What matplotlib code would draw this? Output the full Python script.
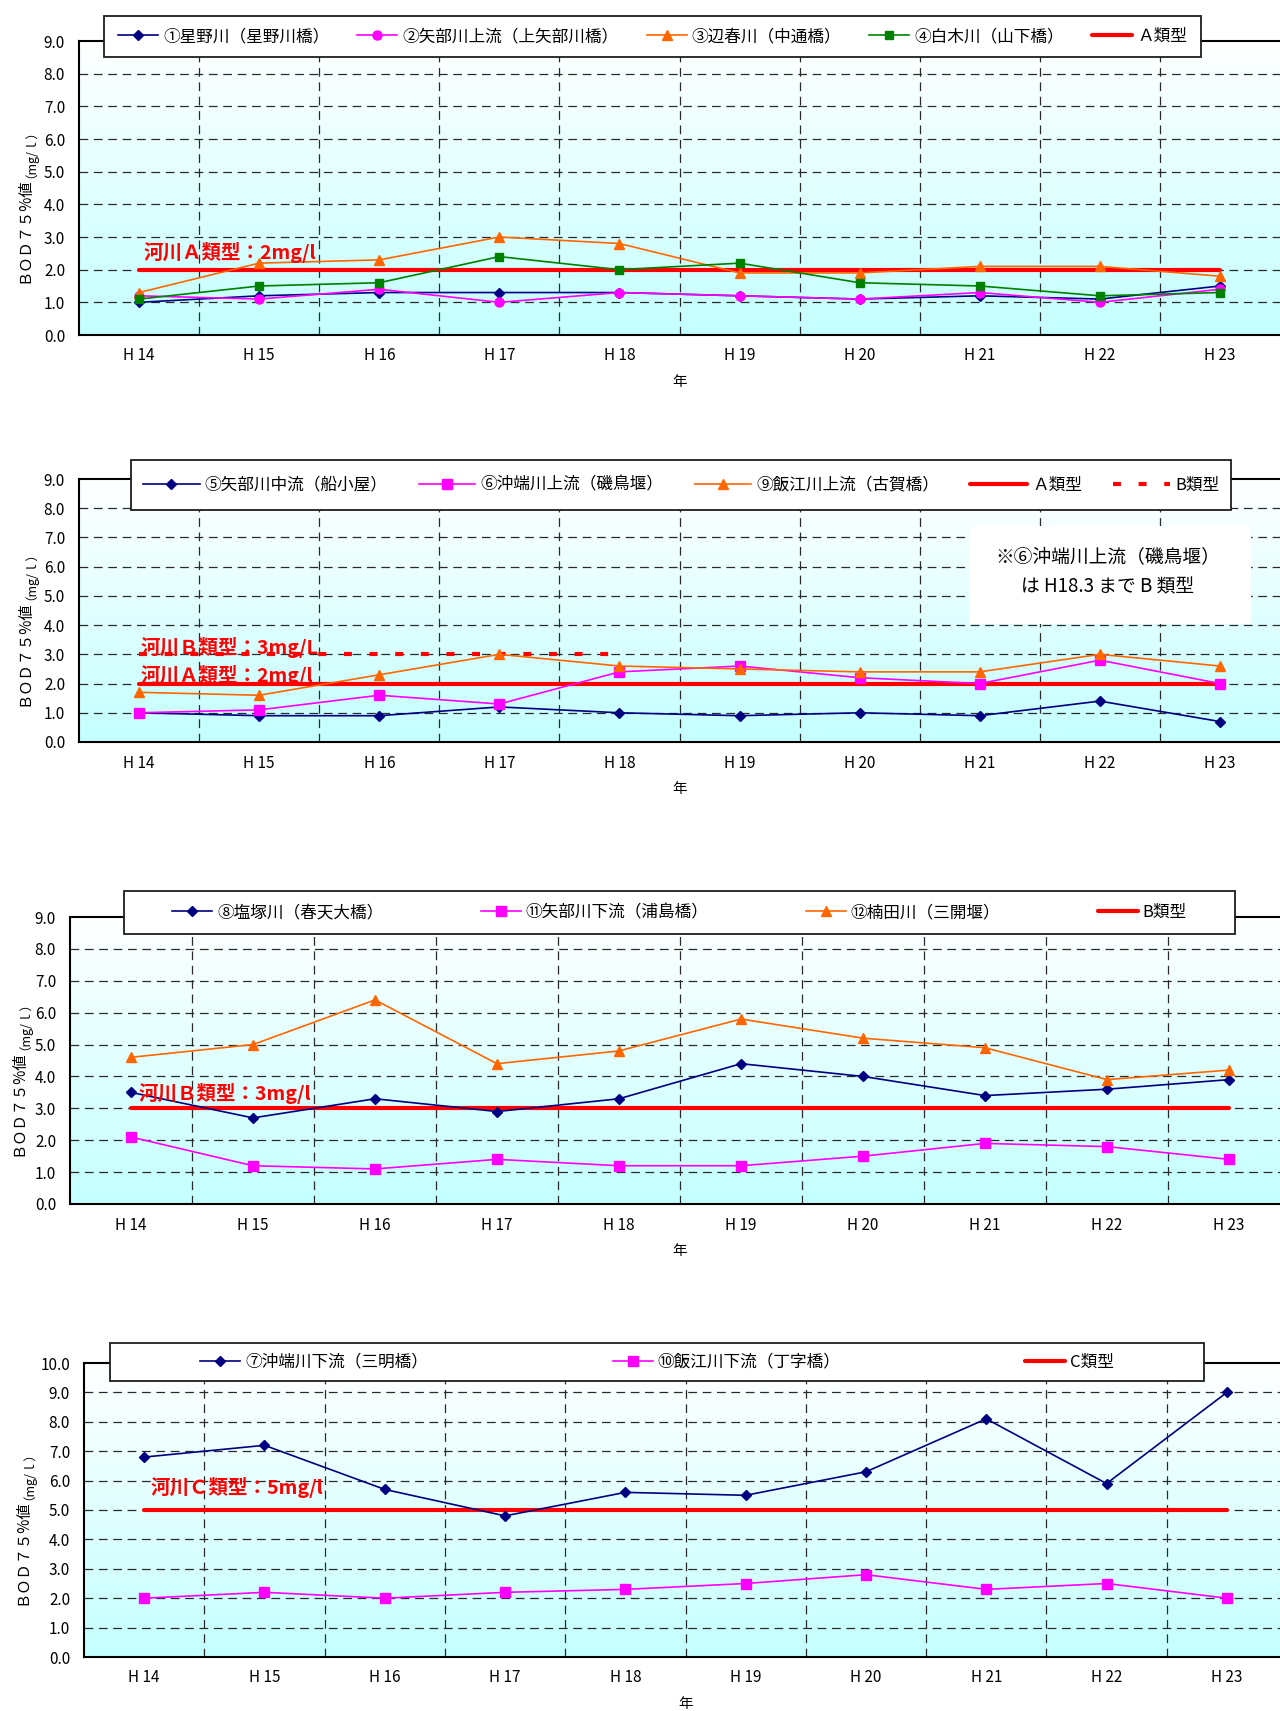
import numpy as np
import matplotlib
matplotlib.use('Agg')
import matplotlib.pyplot as plt
from matplotlib.patches import Rectangle
from matplotlib.colors import LinearSegmentedColormap

plt.rcParams['font.family'] = ['Noto Sans CJK JP', 'DejaVu Sans']

# ---- data -------------------------------------------------------------
years = ['H 14', 'H 15', 'H 16', 'H 17', 'H 18', 'H 19', 'H 20', 'H 21', 'H 22', 'H 23']

# panel 1
hoshino = [1.0, 1.2, 1.3, 1.3, 1.3, 1.2, 1.1, 1.2, 1.1, 1.5]
yabe_upper = [1.2, 1.1, 1.4, 1.0, 1.3, 1.2, 1.1, 1.3, 1.0, 1.4]
hebaru = [1.3, 2.2, 2.3, 3.0, 2.8, 1.9, 1.9, 2.1, 2.1, 1.8]
shiraki = [1.1, 1.5, 1.6, 2.4, 2.0, 2.2, 1.6, 1.5, 1.2, 1.3]

# panel 2
yabe_middle = [1.0, 0.9, 0.9, 1.2, 1.0, 0.9, 1.0, 0.9, 1.4, 0.7]
okinohata_upper = [1.0, 1.1, 1.6, 1.3, 2.4, 2.6, 2.2, 2.0, 2.8, 2.0]
hie_upper = [1.7, 1.6, 2.3, 3.0, 2.6, 2.5, 2.4, 2.4, 3.0, 2.6]

# panel 3
shiozuka = [3.5, 2.7, 3.3, 2.9, 3.3, 4.4, 4.0, 3.4, 3.6, 3.9]
yabe_lower = [2.1, 1.2, 1.1, 1.4, 1.2, 1.2, 1.5, 1.9, 1.8, 1.4]
kusuda = [4.6, 5.0, 6.4, 4.4, 4.8, 5.8, 5.2, 4.9, 3.9, 4.2]

# panel 4
okinohata_lower = [6.8, 7.2, 5.7, 4.8, 5.6, 5.5, 6.3, 8.1, 5.9, 9.0]
hie_lower = [2.0, 2.2, 2.0, 2.2, 2.3, 2.5, 2.8, 2.3, 2.5, 2.0]

# environmental standards
std_a = [2.0, 2.0, 2.0, 2.0, 2.0, 2.0, 2.0, 2.0, 2.0, 2.0]
std_b = [3.0, 3.0, 3.0, 3.0, 3.0, 3.0, 3.0, 3.0, 3.0, 3.0]
std_b_until_h18 = [3.0, 3.0, 3.0, 3.0, 3.0, None, None, None, None, None]
std_c = [5.0, 5.0, 5.0, 5.0, 5.0, 5.0, 5.0, 5.0, 5.0, 5.0]

# ---- styling ----------------------------------------------------------
NAVY, MAGENTA, ORANGE, GREEN, RED = '#000080', '#ff00ff', '#ff6600', '#008000', '#ff0000'
W, H = 1280, 1711
DOTTED = (0, (1.9, 4.25))

fig = plt.figure(figsize=(W / 100, H / 100), dpi=100)
fig.patch.set_facecolor('white')
bg_cmap = LinearSegmentedColormap.from_list('bg', ['#c4ffff', '#ffffff'])


def px_rect(l, t, r, b):
    return [l / W, 1 - b / H, (r - l) / W, (b - t) / H]


panels = [
    dict(ax=(79, 41, 1280, 335), ymax=9,
         series=[('①星野川（星野川橋）', hoshino, NAVY, 'D', 4.8),
                 ('②矢部川上流（上矢部川橋）', yabe_upper, MAGENTA, 'o', 6.5),
                 ('③辺春川（中通橋）', hebaru, ORANGE, '^', 7.5),
                 ('④白木川（山下橋）', shiraki, GREEN, 's', 6.0)],
         standards=[('Ａ類型', std_a, '-')],
         legend_box=(104, 16, 1201, 57), inset=14, handlelength=2.4,
         notes=[('河川Ａ類型：2mg/l', 0.04, 2.33)],
         ylabel_x=24),
    dict(ax=(79, 479, 1280, 742), ymax=9,
         series=[('⑤矢部川中流（船小屋）', yabe_middle, NAVY, 'D', 4.8),
                 ('⑥沖端川上流（磯鳥堰）', okinohata_upper, MAGENTA, 's', 6.5),
                 ('⑨飯江川上流（古賀橋）', hie_upper, ORANGE, '^', 7.5)],
         standards=[('Ａ類型', std_a, '-'), ('B類型', std_b_until_h18, DOTTED)],
         legend_box=(131, 460, 1231, 510), inset=12, handlelength=3.4,
         notes=[('河川Ｂ類型：3mg/L', 0.01, 3.02), ('河川Ａ類型：2mg/l', 0.01, 2.05)],
         ylabel_x=24),
    dict(ax=(70, 917, 1290, 1204), ymax=9,
         series=[('⑧塩塚川（春天大橋）', shiozuka, NAVY, 'D', 4.8),
                 ('⑪矢部川下流（浦島橋）', yabe_lower, MAGENTA, 's', 7.0),
                 ('⑫楠田川（三開堰）', kusuda, ORANGE, '^', 7.5)],
         standards=[('B類型', std_b, '-')],
         legend_box=(124, 891, 1235, 934), inset=48, handlelength=2.4,
         notes=[('河川Ｂ類型：3mg/l', 0.06, 3.26)],
         ylabel_x=18),
    dict(ax=(84, 1363, 1287, 1657), ymax=10,
         series=[('⑦沖端川下流（三明橋）', okinohata_lower, NAVY, 'D', 4.8),
                 ('⑩飯江川下流（丁字橋）', hie_lower, MAGENTA, 's', 6.5)],
         standards=[('C類型', std_c, '-')],
         legend_box=(110, 1343, 1204, 1381), inset=90, handlelength=2.4,
         notes=[('河川Ｃ類型：5mg/l', 0.05, 5.54)],
         ylabel_x=22),
]

renderer = fig.canvas.get_renderer()


def draw_ylabel(x_px, yc_px):
    t1 = fig.text(x_px / W, 0.5, 'ＢＯＤ７５%値', rotation=90, ha='center', va='bottom',
                  fontsize=11)
    t2 = fig.text(x_px / W, 0.5, '（mg/ｌ）', rotation=90, ha='center', va='bottom',
                  fontsize=9)
    h1 = t1.get_window_extent(renderer).height
    h2 = t2.get_window_extent(renderer).height
    y0 = (H - yc_px) - (h1 + h2) / 2
    t1.set_position((x_px / W, y0 / H))
    t2.set_position((x_px / W, (y0 + h1) / H))


for p in panels:
    l, t, r, b = p['ax']
    ymax = p['ymax']
    ax = fig.add_axes(px_rect(l, t, r, b))
    ax.set_facecolor('none')
    n = len(years)
    x = np.arange(n)

    grad = np.linspace(1, 0, 256).reshape(-1, 1)
    ax.imshow(grad, cmap=bg_cmap, aspect='auto', origin='upper',
              extent=(-0.5, n - 0.5, 0, ymax), zorder=0, interpolation='bilinear')
    ax.set_xlim(-0.5, n - 0.5)
    ax.set_ylim(0, ymax)

    for yv in range(1, ymax):
        ax.axhline(yv, color='#2a2a2a', lw=0.9, ls=(0, (7, 4.5)), zorder=1)
    for k in range(n - 1):
        ax.axvline(k + 0.5, color='#2a2a2a', lw=0.9, ls=(0, (7, 4.5)), zorder=1)

    handles, labels = [], []
    for label, vals, color, marker, ms in p['series']:
        h, = ax.plot(x, vals, color=color, lw=1.2, marker=marker, ms=ms,
                     mfc=color, mec=color, zorder=4, clip_on=False)
        handles.append(h)
        labels.append(label)
    for label, vals, ls in p['standards']:
        vals = np.array(vals, dtype=float)
        h, = ax.plot(x, vals, color=RED, lw=3, ls=ls, zorder=3,
                     solid_capstyle='round', dash_capstyle='butt')
        handles.append(h)
        labels.append(label)

    for text, tx, ty in p['notes']:
        ax.text(tx, ty, text, color=RED, fontsize=14, fontweight='bold',
                ha='left', va='baseline', zorder=5)

    ax.set_xticks(x)
    ax.set_xticklabels(years, fontsize=11)
    ax.set_yticks(range(0, ymax + 1))
    ax.set_yticklabels([f'{v:.1f}' for v in range(0, ymax + 1)], fontsize=11)
    ax.tick_params(axis='both', length=0)
    ax.tick_params(axis='x', pad=9)
    ax.tick_params(axis='y', pad=10)
    for side in ('top', 'left', 'bottom'):
        ax.spines[side].set_color('black')
        ax.spines[side].set_linewidth(1.5)
        ax.spines[side].set_zorder(6)
    ax.spines['right'].set_visible(False)

    ax.text(0.5, -47 / (b - t), '年', transform=ax.transAxes, ha='center',
            va='center', fontsize=10.5)

    draw_ylabel(p['ylabel_x'], (t + b) / 2 + 12)

    bl, bt, br, bb = p['legend_box']
    fig.add_artist(Rectangle((bl / W, 1 - bb / H), (br - bl) / W, (bb - bt) / H,
                             transform=fig.transFigure, facecolor='white',
                             edgecolor='#1e1e1e', lw=1.3, zorder=4))
    ins = p['inset']
    fig.legend(handles, labels, loc='center',
               bbox_to_anchor=((bl + ins) / W, 1 - bb / H, (br - bl - 2 * ins) / W, (bb - bt) / H),
               mode='expand', ncol=len(handles), frameon=False, borderpad=0,
               borderaxespad=0, handlelength=p['handlelength'], handletextpad=0.3,
               columnspacing=0.5, fontsize=12, numpoints=1)

# note about the reclassified upstream point (panel 2)
fig.add_artist(Rectangle((969 / W, 1 - 624 / H), (1251 - 969) / W, (624 - 526) / H,
                         transform=fig.transFigure, facecolor='white',
                         edgecolor='none', zorder=3))
fig.text(1108 / W, 1 - 557 / H, '※⑥沖端川上流（磯鳥堰）', ha='center', va='center',
         fontsize=13.5, zorder=5)
fig.text(1108 / W, 1 - 587 / H, 'は H18.3 まで B 類型', ha='center', va='center',
         fontsize=13.5, zorder=5)

fig.savefig('out.png', dpi=100)
